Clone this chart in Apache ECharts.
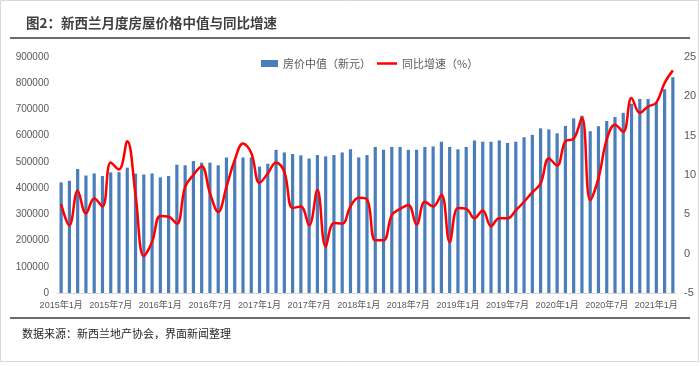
<!DOCTYPE html>
<html><head><meta charset="utf-8">
<script src="https://cdn.jsdelivr.net/npm/echarts@6/dist/echarts.min.js"></script>
<style>html,body{margin:0;padding:0;background:#fff}#c{width:700px;height:367px}</style>
</head><body><div id="c"></div>
<script>
const titleText = '图2：新西兰月度房屋价格中值与同比增速';
const sourceText = '数据来源：新西兰地产协会，界面新闻整理';
const seriesNames = ['房价中值（新元）', '同比增速（%）'];
const startYear = 2015, monthCount = 75;
const categories = [];
for (let i = 0; i < monthCount; i++) {
  const y = startYear + Math.floor(i / 12), m = i % 12 + 1;
  categories.push(y + '年' + m + '月');
}
const medianPrice = [
  422000,428000,473000,448000,456000,446000,460000,461000,478000,455000,452000,456000,
  441000,446000,489000,487000,503000,497000,497000,487000,517000,507000,517000,517000,
  482000,493000,546000,536000,530000,525000,513000,526000,521000,526000,536000,548000,
  517000,526000,557000,546000,557000,557000,546000,546000,557000,559000,577000,557000,
  548000,557000,582000,577000,577000,582000,572000,577000,594000,603000,628000,624000,
  609000,637000,666000,676000,617000,636000,656000,671000,687000,722000,740000,740000,
  726000,777000,823000
];
const yoyGrowth = [
  6.3,3.6,8.0,5.1,7.0,6.0,11.6,10.7,14.3,7.5,-0.3,1.5,
  4.8,4.7,3.8,8.5,10.0,11.1,7.7,5.3,8.5,11.9,14.0,12.8,
  9.0,10.2,11.6,10.4,5.8,6.0,3.6,8.1,0.9,3.9,3.8,6.0,
  7.1,6.9,1.7,1.7,4.9,5.7,6.2,3.7,6.6,6.0,7.5,1.5,
  5.8,5.7,4.5,5.5,3.5,4.5,4.5,5.5,6.6,7.8,8.9,12.1,
  11.2,14.3,14.6,17.3,6.8,9.6,14.5,16.4,15.5,19.8,17.9,18.7,
  19.2,21.7,23.3
];

const chart = echarts.init(document.getElementById('c'), null, {renderer: 'canvas'});
const cjk = '"Noto Sans CJK SC", "Liberation Sans", sans-serif';
const num = '"Liberation Sans", Arial, "Noto Sans CJK SC", sans-serif';
const legendText = {fontFamily: cjk, fontSize: 11, color: '#595959'};
chart.setOption({
  animation: false,
  backgroundColor: '#fff',
  title: {
    text: titleText, left: 21, top: 11,
    textStyle: {fontFamily: cjk, fontSize: 13.5, fontWeight: 'bold', color: '#404040'}
  },
  legend: [
    {left: 256, top: 53, itemWidth: 17, itemHeight: 7, icon: 'rect',
     textStyle: legendText, data: [seriesNames[0]]},
    {left: 372, top: 53, itemWidth: 20, itemHeight: 2.5, icon: 'rect', itemGap: 5,
     textStyle: legendText, data: [seriesNames[1]]}
  ],
  grid: {left: 57, right: 23, top: 57, bottom: 74},
  xAxis: {
    type: 'category', data: categories,
    axisLine: {lineStyle: {color: '#d9d9d9'}},
    axisTick: {show: false},
    axisLabel: {interval: 5, fontFamily: num, fontSize: 9, color: '#595959', margin: 8}
  },
  yAxis: [
    {type: 'value', min: 0, max: 900000, interval: 100000,
     axisLine: {show: false}, axisTick: {show: false}, splitLine: {show: false},
     axisLabel: {fontFamily: num, fontSize: 10, color: '#595959', margin: 8,
                 formatter: v => String(v)}},
    {type: 'value', min: -5, max: 25, interval: 5,
     axisLine: {show: false}, axisTick: {show: false}, splitLine: {show: false},
     axisLabel: {fontFamily: num, fontSize: 11, color: '#595959', margin: 7}}
  ],
  series: [
    {name: seriesNames[0], type: 'bar', data: medianPrice, barWidth: 3.2,
     itemStyle: {color: '#4a7ebb'}},
    {name: seriesNames[1], type: 'line', yAxisIndex: 1, data: yoyGrowth,
     smooth: 0.4, symbol: 'none', lineStyle: {color: '#ff0000', width: 2.5},
     itemStyle: {color: '#ff0000'}}
  ],
  graphic: [
    {type: 'rect', shape: {x: 0.5, y: 0.5, width: 698, height: 361},
     style: {fill: 'none', stroke: '#d9d9d9', lineWidth: 1}, silent: true},
    {type: 'line', shape: {x1: 10, y1: 38, x2: 690, y2: 38},
     style: {stroke: '#3a3a3a', lineWidth: 1.5}},
    {type: 'line', shape: {x1: 10, y1: 318, x2: 690, y2: 318},
     style: {stroke: '#3a3a3a', lineWidth: 1.5}},
    {type: 'text', left: 22, top: 328,
     style: {text: sourceText, fontFamily: cjk, fontSize: 11, fill: '#262626'}}
  ]
});
</script></body></html>
